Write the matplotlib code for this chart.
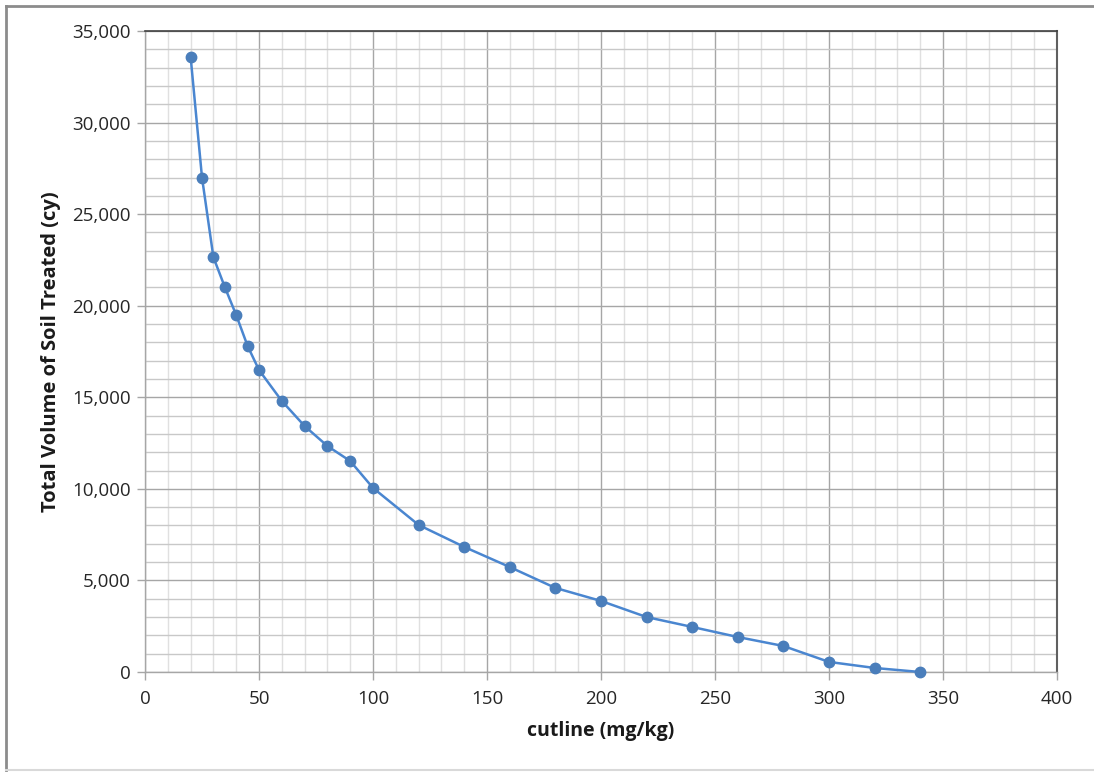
import matplotlib
matplotlib.use("Agg")
import matplotlib.pyplot as plt
from matplotlib.ticker import MultipleLocator, FuncFormatter
from matplotlib.lines import Line2D

cutline = [20, 25, 30, 35, 40, 45, 50, 60, 70, 80, 90, 100, 120, 140, 160,
           180, 200, 220, 240, 260, 280, 300, 320, 340]
volume = [33600, 27000, 22650, 21020, 19490, 17800, 16490, 14800, 13430,
          12340, 11520, 10050, 8030, 6830, 5730, 4590, 3880, 3000, 2460,
          1910, 1420, 550, 220, 0]

x_label = "cutline (mg/kg)"
y_label = "Total Volume of Soil Treated (cy)"

plt.rcParams["font.family"] = ["Open Sans", "DejaVu Sans"]

W, H = 1094, 772
fig = plt.figure(figsize=(W / 100, H / 100), dpi=100)

# outer chart frame: darker left/top edges, faint bottom edge
def frame_line(xs, ys, color, lw):
    fig.lines.append(Line2D([x / W for x in xs], [1 - y / H for y in ys],
                            transform=fig.transFigure, color=color,
                            linewidth=lw, zorder=0))

frame_line([6, 6], [6, 770], "#8c8c8c", 2.0)
frame_line([6, W], [6, 6], "#8c8c8c", 2.0)
frame_line([6, W], [770, 770], "#d9d9d9", 1.5)

ax = fig.add_axes([145 / W, 1 - 672 / H, 912 / W, 641 / H])
ax.set_xlim(0, 400)
ax.set_ylim(0, 35000)

ax.xaxis.set_major_locator(MultipleLocator(50))
ax.xaxis.set_minor_locator(MultipleLocator(10))
ax.yaxis.set_major_locator(MultipleLocator(5000))
ax.yaxis.set_minor_locator(MultipleLocator(1000))
ax.yaxis.set_major_formatter(FuncFormatter(lambda v, p: f"{int(v):,}"))

ax.grid(which="major", axis="both", color="#a6a6a6", linewidth=1.0)
ax.grid(which="minor", axis="y", color="#c8c8c8", linewidth=1.0)
ax.grid(which="minor", axis="x", color="#e0e0e0", linewidth=1.0)
ax.set_axisbelow(True)

for side in ("left", "bottom"):
    ax.spines[side].set_color("#a6a6a6")
    ax.spines[side].set_linewidth(1.0)
ax.spines["top"].set_color("#404040")
ax.spines["top"].set_linewidth(1.2)
ax.spines["right"].set_color("#606060")
ax.spines["right"].set_linewidth(1.5)

ax.tick_params(which="major", direction="out", length=6, width=1.0,
               color="#a6a6a6", labelsize=13.5, labelcolor="#262626")
ax.tick_params(which="minor", length=0)
ax.tick_params(axis="x", pad=7)
ax.tick_params(axis="y", pad=4)

ax.plot(cutline, volume, color="#4a86d0", linewidth=1.8, marker="o",
        markersize=7.5, markerfacecolor="#4a7ebb", markeredgecolor="#4a7ebb",
        zorder=3, clip_on=False)

ax.set_xlabel(x_label, fontsize=14, fontweight="bold", color="#1a1a1a",
              labelpad=9)
ax.set_ylabel(y_label, fontsize=14.5, fontweight="bold", color="#1a1a1a",
              labelpad=8)

fig.savefig("out.png", dpi=100, facecolor="white")
